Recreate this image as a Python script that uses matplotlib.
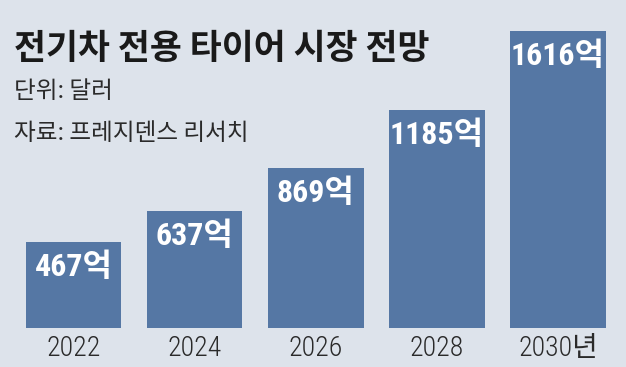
import matplotlib
matplotlib.use("Agg")
import matplotlib.pyplot as plt

years = ["2022", "2024", "2026", "2028", "2030년"]
values = [467, 637, 869, 1185, 1616]
value_labels = ["467억", "637억", "869억", "1185억", "1616억"]
title = "전기차 전용 타이어 시장 전망"
unit = "단위: 달러"
source = "자료: 프레지덴스 리서치"

BG = "#dde3eb"
BAR = "#5577a4"
narrow = ["Roboto Condensed", "DejaVu Sans Condensed", "Liberation Sans Narrow",
          "Noto Sans CJK KR", "DejaVu Sans"]
kr = ["Noto Sans CJK KR", "DejaVu Sans"]

fig = plt.figure(figsize=(6.26, 3.67), dpi=100, facecolor=BG)
ax = fig.add_axes([13 / 626, 39 / 367, 605.5 / 626, 297 / 367])
ax.set_facecolor(BG)
ax.patch.set_alpha(0)

x = list(range(len(years)))
ax.bar(x, values, width=0.79, color=BAR, zorder=2)
ax.set_xlim(-0.5, len(years) - 0.5)
ax.set_ylim(0, max(values))
for s in ax.spines.values():
    s.set_visible(False)
ax.set_yticks([])
ax.set_xticks(x)
ax.set_xticklabels(years, fontfamily=narrow, fontsize=20, color="#2a2a2a",
                   fontstretch="condensed", fontweight="light")
ax.tick_params(axis="x", length=0, pad=5)

for i, (v, lab) in enumerate(zip(values, value_labels)):
    ax.annotate(lab, xy=(i, v), xytext=(0, -7), textcoords="offset points",
                ha="center", va="top", color="white", fontsize=23,
                fontweight="bold", fontfamily=narrow, fontstretch="condensed",
                zorder=3)

fig.text(14 / 626, 1 - 48 / 367, title, fontfamily=kr, fontsize=25,
         fontweight="bold", color="#1a1a1a", va="center", ha="left")
fig.text(14 / 626, 1 - 92 / 367, unit, fontfamily=kr, fontsize=17,
         color="#2a2a2a", va="center", ha="left")
fig.text(14 / 626, 1 - 133 / 367, source, fontfamily=kr, fontsize=17,
         color="#2a2a2a", va="center", ha="left")

fig.savefig("out.png", dpi=100, facecolor=BG)
